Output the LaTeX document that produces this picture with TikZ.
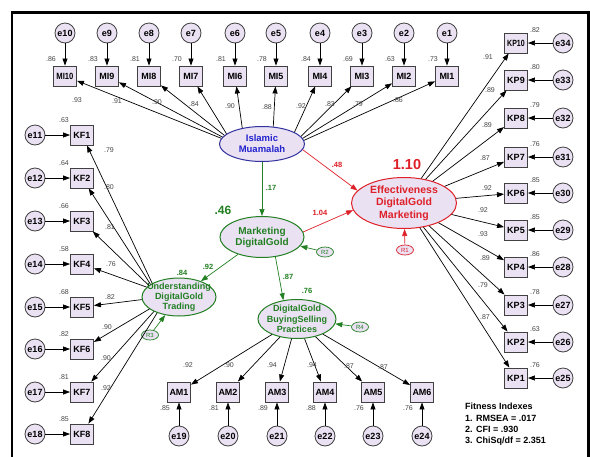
\documentclass[tikz,border=0pt]{standalone}
\usepackage{fontspec}
\usepackage{graphicx}
\setmainfont{Liberation Sans}
\usetikzlibrary{arrows.meta,shapes.geometric}
\definecolor{lav}{RGB}{234,225,243}
\definecolor{imblue}{RGB}{35,35,205}
\definecolor{imdraw}{RGB}{50,50,160}
\definecolor{efred}{RGB}{222,32,40}
\definecolor{mgreen}{RGB}{34,128,34}
\definecolor{lblgray}{RGB}{70,70,70}
\tikzset{
  obs/.style={draw=black!75, line width=0.9pt, fill=lav, minimum width=23pt, minimum height=20pt, inner sep=0pt, font=\bfseries\fontsize{9}{9}\selectfont},
  err/.style={circle, draw=black!75, line width=0.8pt, fill=lav, minimum size=20pt, inner sep=0pt, font=\bfseries\fontsize{9}{9}\selectfont},
  arr/.style={line width=0.7pt, -{Triangle[length=7pt,width=5pt]}},
  lab/.style={font=\fontsize{7}{7}\selectfont, text=lblgray, inner sep=0pt},
  coef/.style={font=\bfseries\fontsize{7.5}{7.5}\selectfont, inner sep=0pt},
  latshape/.style={ellipse, fill=lav, line width=1pt, inner sep=0pt},
  lattext/.style={align=center, inner sep=0pt},
  rnode/.style={ellipse, fill=lav, line width=0.7pt, minimum width=17pt, minimum height=10pt, inner sep=0pt, font=\fontsize{6}{6}\selectfont},
}
\begin{document}
\begin{tikzpicture}[x=1pt,y=-1pt]
\useasboundingbox (0,0) rectangle (590,456);
\fill[white] (0,0) rectangle (590,456);
\draw[line width=2.5pt] (12,460) -- (12,12.5) -- (588.5,12.5) -- (588.5,460);

% latent variables
\node[latshape, draw=imdraw, minimum width=85pt, minimum height=35pt] (im) at (262,144) {};
\node[lattext, text=imblue, font=\bfseries\fontsize{9.5}{11}\selectfont] (imt) at (im) {Islamic\\Muamalah};
\node[latshape, draw=efred, minimum width=105pt, minimum height=51pt] (eff) at (404,203) {};
\node[lattext, text=efred, font=\bfseries\fontsize{10.5}{12.5}\selectfont] (efft) at (eff) {Effectiveness\\DigitalGold\\Marketing};
\node[latshape, draw=mgreen, minimum width=84pt, minimum height=41pt] (mkt) at (262,237) {};
\node[lattext, text=mgreen, font=\bfseries\fontsize{10}{11}\selectfont] (mktt) at (mkt) {Marketing\\DigitalGold};
\node[latshape, draw=mgreen, minimum width=74pt, minimum height=38pt] (und) at (179,297) {};
\node[lattext, text=mgreen, font=\bfseries\fontsize{9}{10.3}\selectfont] (undt) at (und) {Understanding\\DigitalGold\\Trading};
\node[latshape, draw=mgreen, minimum width=78pt, minimum height=39pt] (buy) at (297,319) {};
\node[lattext, text=mgreen, font=\bfseries\fontsize{9}{10.3}\selectfont] (buyt) at (buy) {DigitalGold\\BuyingSelling\\Practices};

% residuals
\node[rnode, draw=efred, text=efred] (r1) at (405,250) {R1};
\node[rnode, draw=mgreen, text=mgreen] (r2) at (325,252) {R2};
\node[rnode, draw=mgreen, text=mgreen] (r3) at (150,335) {R3};
\node[rnode, draw=mgreen, text=mgreen] (r4) at (360,327) {R4};
\draw[arr, efred] (r1) -- (eff);
\draw[arr, mgreen] (r2) -- (mkt);
\draw[arr, mgreen] (r3) -- (und);
\draw[arr, mgreen] (r4) -- (buy);

% structural paths
\draw[arr, efred] (im.-8) -- (eff.165);
\draw[arr, efred] (mkt.7) -- (eff.188);
\draw[arr, mgreen] (im.south) -- (mkt.north);
\draw[arr, mgreen] (mkt) -- (und);
\draw[arr, mgreen] (mkt.-56) -- (buy.126);

\node[coef, text=efred] (c48) at (337,165) {.48};
\node[coef, text=mgreen] (c17) at (271,188) {.17};
\node[coef, text=efred] (c104) at (320,213) {1.04};
\node[coef, text=mgreen] (c92) at (208,267) {.92};
\node[coef, text=mgreen] (c87) at (288,277) {.87};
\node[coef, text=mgreen] (c84) at (182,273) {.84};
\node[coef, text=mgreen] (c76) at (307,291) {.76};
\node[font=\bfseries\fontsize{12}{12}\selectfont, text=mgreen, inner sep=0pt] (v46) at (223,210) {.46};
\node[font=\bfseries\fontsize{14.5}{14.5}\selectfont, text=efred, inner sep=0pt] (v110) at (407,165) {1.10};

% top row: MI
\foreach \n/\x/\ld in {10/65/.86, 9/107/.83, 8/149/.81, 7/191/.70, 6/235/.81, 5/276/.78, 4/320/.84, 3/362/.69, 2/404/.63, 1/447/.73} {
  \node[err] (e\n) at (\x,33) {e\n};
  \node[obs] (mi\n) at (\x,76) {\ifnum\n=10 \scalebox{0.85}[1]{MI10}\else MI\n\fi};
  \node[lab] (lmi\n) at (\x-14,59) {\ld};
  \draw[arr] (e\n) -- (mi\n);
}
\foreach \n/\a/\v/\px/\py in {10/172/.93/77/100, 9/170/.91/117/101, 8/167/.90/157/102, 7/164/.84/194/104, 6/141/.90/230/106, 5/57/.88/267/107, 4/20/.92/301/106, 3/11/.83/330/104, 2/8/.79/358/104, 1/5/.86/398/100} {
  \draw[arr] (im.\a) -- (mi\n);
  \node[lab] (pmi\n) at (\px,\py) {\v};
}

% left column: KF
\foreach \n/\y/\a/\ld/\pc/\px/\py in {1/135/153/.63/.79/109/150, 2/178/156/.64/.80/109/187, 3/221/159/.66/.81/110/227, 4/264/163/.58/.76/111/264, 5/307/184/.68/.82/110/297, 6/349/202/.82/.90/107/327, 7/392/210/.81/.90/106/358, 8/434/216/.85/.92/106/388} {
  \pgfmathtruncatemacro\en{\n+10}
  \node[err] (e\en) at (35,\y) {e\en};
  \node[obs] (kf\n) at (82,\y) {KF\n};
  \node[lab] (lkf\n) at (64,\y-15) {\ld};
  \draw[arr] (e\en) -- (kf\n);
  \draw[arr] (und.\a) -- (kf\n);
  \node[lab] (pkf\n) at (\px,\py) {\pc};
}

% right column: KP
\foreach \n/\y/\ld/\pc/\px/\py in {10/43/.82/.91/488/57, 9/80/.80/.89/490/90, 8/118/.79/.89/487/125, 7/157/.76/.87/485/158, 6/193/.85/.92/487/188, 5/230/.85/.92/483/210, 4/267/.86/.93/483/234, 3/305/.78/.89/485/258, 2/342/.63/.79/483/285, 1/378/.76/.87/485/317} {
  \pgfmathtruncatemacro\en{\n+24}
  \node[err] (e\en) at (563,\y) {e\en};
  \node[obs] (kp\n) at (516,\y) {\ifnum\n=10 \scalebox{0.78}[1]{KP10}\else KP\n\fi};
  \node[lab] (lkp\n) at (535,\y-13) {\ld};
  \draw[arr] (e\en) -- (kp\n);
  \draw[arr] (eff) -- (kp\n);
  \node[lab] (pkp\n) at (\px,\py) {\pc};
}

% bottom row: AM
\foreach \n/\x/\ld/\pc/\px/\py in {1/179/.85/.92/188/365, 2/228/.81/.90/229/365, 3/277/.89/.94/272/365, 4/325/.88/.94/312/365, 5/373/.76/.87/349/366, 6/422/.76/.87/383/367} {
  \pgfmathtruncatemacro\en{\n+18}
  \node[err] (e\en) at (\x,436) {e\en};
  \node[obs] (am\n) at (\x,392) {AM\n};
  \node[lab] (lam\n) at (\x-14,408) {\ld};
  \draw[arr] (e\en) -- (am\n);
  \draw[arr] (buy) -- (am\n);
  \node[lab] (pam\n) at (\px,\py) {\pc};
}

% fit indexes
\node[anchor=north west, align=left, inner sep=0pt, font=\bfseries\fontsize{9}{11.3}\selectfont] (fit) at (465,403) {Fitness Indexes\\1. RMSEA = .017\\2. CFI = .930\\3. ChiSq/df = 2.351};
\end{tikzpicture}
\end{document}
